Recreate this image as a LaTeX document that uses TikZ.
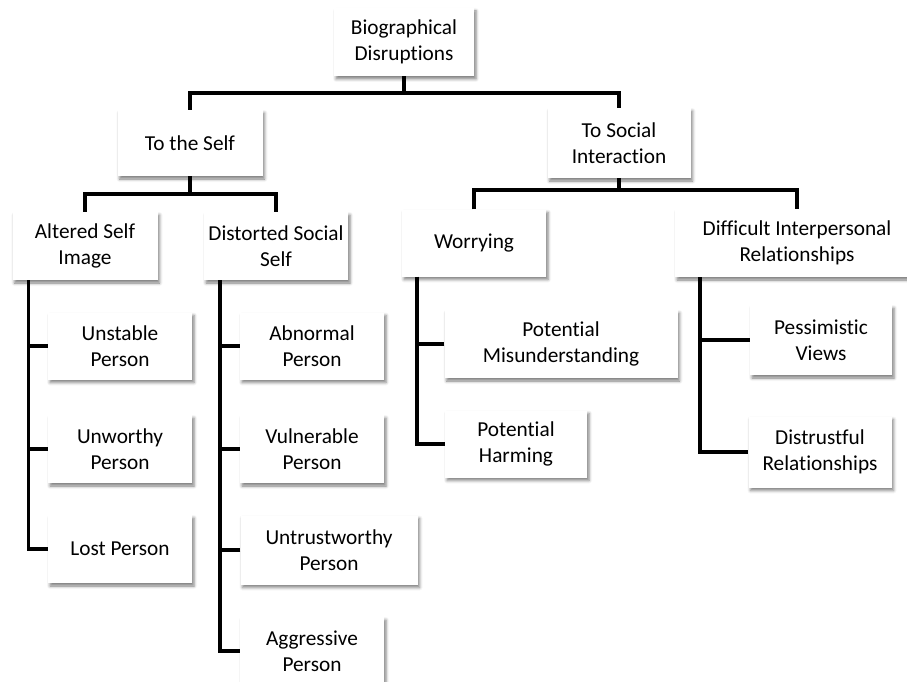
\documentclass[tikz,border=0pt]{standalone}
\usepackage{fontspec}
\setmainfont[Ligatures=NoCommon]{Carlito}
\usetikzlibrary{shadows.blur}
\begin{document}
\begin{tikzpicture}[x=1pt,y=-1pt,
  box/.style 2 args={fill=white, draw=none, align=center, inner sep=0pt,
    minimum width=#1pt, minimum height=#2pt,
    font=\fontsize{21.3}{26}\selectfont,
    blur shadow={shadow xshift=2pt, shadow yshift=-3pt, shadow blur radius=3pt, shadow opacity=50}},
  conn/.style={line width=3.6pt, line join=miter, draw=black}]
\useasboundingbox (0,0) rectangle (907,682);
% nodes
\node[box={140}{68}] (root) at (404,42) {Biographical\\Disruptions};
\node[box={145}{66}] (self) at (190,143) {To the Self};
\node[box={143}{70}] (soc) at (619,143) {To Social\\Interaction};
\node[box={145}{68}] (alt) at (85,246) {Altered Self\\Image};
\node[box={144}{68}] (dis) at (276,246) {Distorted Social\\Self};
\node[box={144}{67}] (wor) at (474,243) {Worrying};
\node[box={244}{68}] (dif) at (797,243) {Difficult Interpersonal\\Relationships};
\node[box={144}{67}] (uns) at (120,346) {Unstable\\Person};
\node[box={144}{68}] (unw) at (120,449) {Unworthy\\Person};
\node[box={144}{68}] (lost) at (120,549) {Lost Person};
\node[box={144}{67}] (abn) at (312,346) {Abnormal\\Person};
\node[box={144}{68}] (vul) at (312,449) {Vulnerable\\Person};
\node[box={177}{69}] (untr) at (329,550) {Untrustworthy\\Person};
\node[box={144}{68}] (agg) at (312,651) {Aggressive\\Person};
\node[box={233}{68}] (mis) at (561,344) {Potential\\Misunderstanding};
\node[box={142}{67}] (harm) at (516,444) {Potential\\Harming};
\node[box={142}{70}] (pes) at (821,340) {Pessimistic\\Views};
\node[box={143}{71}] (dtr) at (820,452) {Distrustful\\Relationships};
% junctions
\coordinate (j1) at (404,93);
\coordinate (j2) at (190,194);
\coordinate (j3) at (619,190);
% connectors
\draw[conn] (root.south) -- (j1);
\draw[conn] (self.north) |- (j1) -| (soc.north);
\draw[conn] (self.south) -- (j2);
\draw[conn] (alt.north) |- (j2) -| (dis.north);
\draw[conn] (soc.south) -- (j3);
\draw[conn] (wor.north) |- (j3) -| (dif.north);
\draw[conn] ([xshift=16pt]alt.south west) |- (lost.west);
\draw[conn] (uns.west) -- ++(-20,0);
\draw[conn] (unw.west) -- ++(-20,0);
\draw[conn] ([xshift=16pt]dis.south west) |- (agg.west);
\draw[conn] (abn.west) -- ++(-20,0);
\draw[conn] (vul.west) -- ++(-20,0);
\draw[conn] (untr.west) -- ++(-21,0);
\draw[conn] ([xshift=15pt]wor.south west) |- (harm.west);
\draw[conn] (mis.west) -- ++(-28,0);
\draw[conn] ([xshift=25pt]dif.south west) |- (dtr.west);
\draw[conn] (pes.west) -- ++(-50,0);
\end{tikzpicture}
\end{document}
